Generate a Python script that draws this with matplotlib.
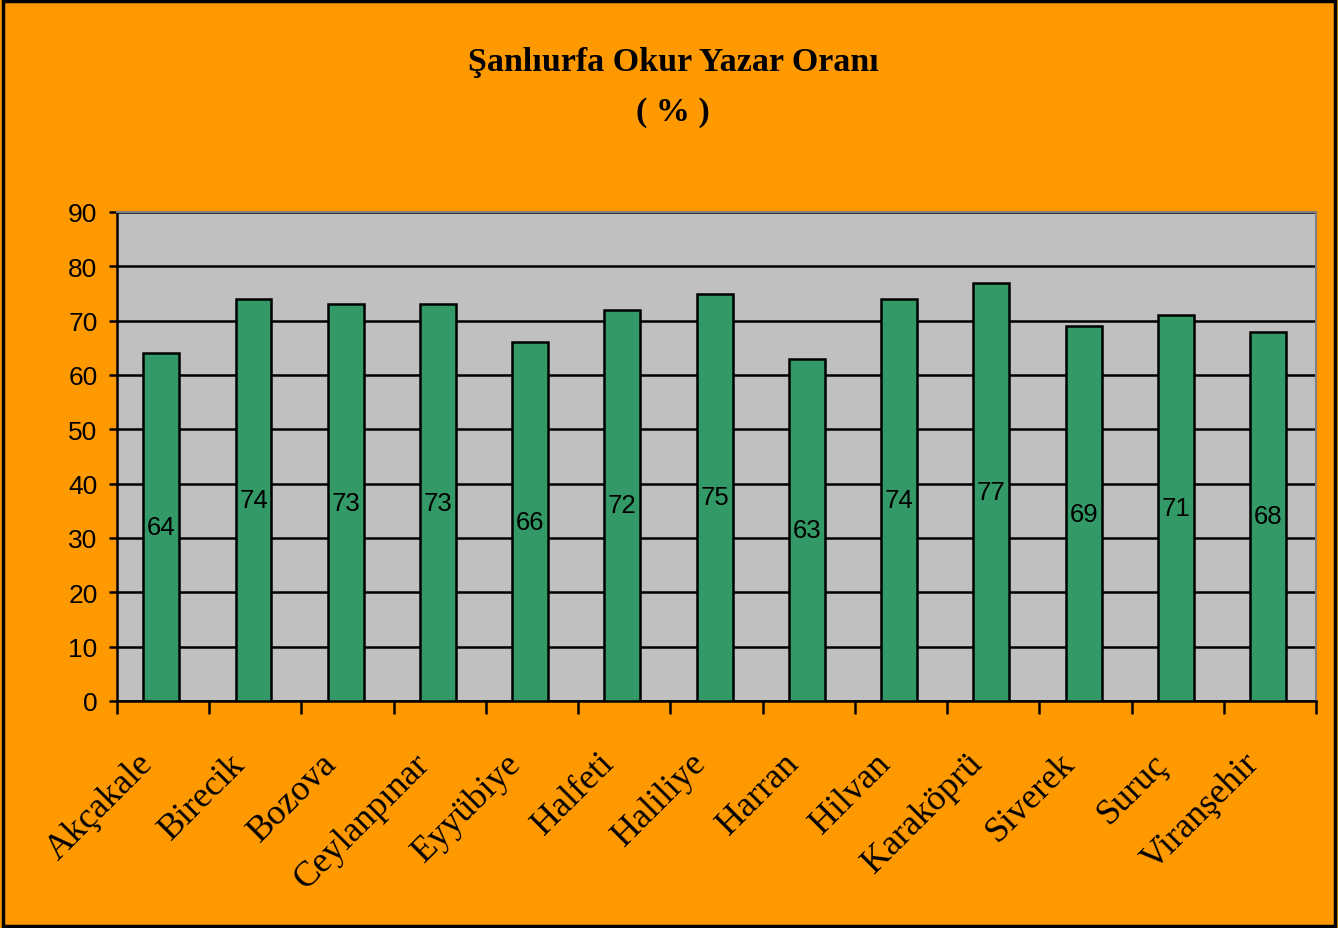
import matplotlib.pyplot as plt
import numpy as np

# ilce bazinda okur yazar orani (%)
ilceler = ['Akçakale', 'Birecik', 'Bozova', 'Ceylanpınar', 'Eyyübiye', 'Halfeti',
           'Haliliye', 'Harran', 'Hilvan', 'Karaköprü', 'Siverek', 'Suruç', 'Viranşehir']
oranlar = [64, 74, 73, 73, 66, 72, 75, 63, 74, 77, 69, 71, 68]
y_ticks = [0, 10, 20, 30, 40, 50, 60, 70, 80, 90]

fig = plt.figure(figsize=(13.38, 9.29), dpi=100, facecolor='#FF9900')
fig.patches.append(plt.Rectangle((0.002, 0.002), 0.996, 0.996, transform=fig.transFigure,
                                 fill=False, edgecolor='black', linewidth=2.5))

ax = fig.add_axes([117/1338, 1 - 702/929, (1316-117)/1338, (702-213)/929])
ax.set_facecolor('#C0C0C0')

x = np.arange(len(ilceler))
ax.bar(x - 0.02, oranlar, width=0.39, color='#339966', edgecolor='black', linewidth=1.8, zorder=3)

for xi, v in zip(x, oranlar):
    ax.text(xi - 0.02, v / 2, str(v), ha='center', va='center', fontsize=18.5,
            family='Liberation Sans', zorder=4)

ax.set_xlim(-0.5, len(ilceler) - 0.5)
ax.set_ylim(0, 90)
ax.set_yticks(y_ticks)
ax.yaxis.grid(True, color='black', linewidth=1.8, zorder=1)
ax.set_axisbelow(True)

# x ekseni: tikler kategoriler arasinda
ax.set_xticks(np.arange(-0.5, len(ilceler), 1.0))
ax.set_xticklabels([])
ax.tick_params(axis='x', direction='out', length=9, width=1.8)
ax.tick_params(axis='y', direction='out', length=6, width=1.8, labelsize=19, pad=8)
for lab in ax.get_yticklabels():
    lab.set_family('Liberation Sans')

for xi, name in zip(x, ilceler):
    ax.text(xi - 0.04, -8.4, name, rotation=45, ha='right', va='top',
            fontsize=26, family='Liberation Serif', transform=ax.transData)

ax.spines['left'].set_linewidth(1.8)
ax.spines['bottom'].set_linewidth(1.8)
ax.spines['top'].set_color('#808080')
ax.spines['right'].set_color('#808080')
ax.spines['top'].set_linewidth(1.5)
ax.spines['right'].set_linewidth(1.5)

fig.text(0.503, 1 - 62/929, 'Şanlıurfa Okur Yazar Oranı', ha='center', va='center',
         fontsize=24.5, fontweight='bold', family='Liberation Serif')
fig.text(0.503, 1 - 112/929, '( % )', ha='center', va='center',
         fontsize=24.5, fontweight='bold', family='Liberation Serif')

fig.savefig('out.png', dpi=100, facecolor=fig.get_facecolor())
